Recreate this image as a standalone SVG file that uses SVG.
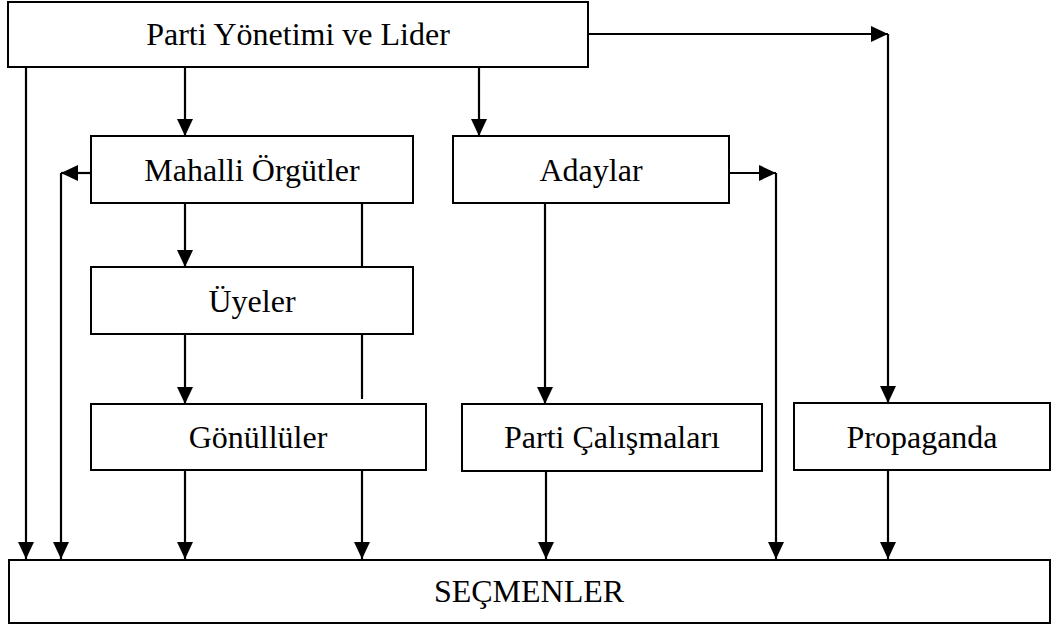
<svg xmlns="http://www.w3.org/2000/svg" width="1051" height="628" viewBox="0 0 1051 628">
<style>
.box{fill:#fff;stroke:#000;stroke-width:2}
.lbl{font-family:"Liberation Serif","Times New Roman",serif;font-size:32px;fill:#000;text-anchor:middle}
.c{fill:none;stroke:#000;stroke-width:2.2}
</style>
<defs>
<marker id="ah" markerUnits="userSpaceOnUse" markerWidth="20" markerHeight="18" refX="17" refY="8" orient="auto">
<path d="M0,0 L17,8 L0,16 z" fill="#000"/>
</marker>
</defs>
<rect width="1051" height="628" fill="#fff"/>
<g id="connectors">
<path class="c" d="M26,67 V559" marker-end="url(#ah)"/>
<path class="c" d="M91,173 H61" marker-end="url(#ah)"/>
<path class="c" d="M61,173 V559" marker-end="url(#ah)"/>
<path class="c" d="M185,67 V136" marker-end="url(#ah)"/>
<path class="c" d="M479,67 V136" marker-end="url(#ah)"/>
<path class="c" d="M588,34 H888" marker-end="url(#ah)"/>
<path class="c" d="M888,34 V403" marker-end="url(#ah)"/>
<path class="c" d="M729,173 H776" marker-end="url(#ah)"/>
<path class="c" d="M776,173 V559" marker-end="url(#ah)"/>
<path class="c" d="M185,203 V267" marker-end="url(#ah)"/>
<path class="c" d="M362,203 V267"/>
<path class="c" d="M185,334 V404" marker-end="url(#ah)"/>
<path class="c" d="M362,334 V399"/>
<path class="c" d="M185,470 V559" marker-end="url(#ah)"/>
<path class="c" d="M362,470 V559" marker-end="url(#ah)"/>
<path class="c" d="M545,203 V404" marker-end="url(#ah)"/>
<path class="c" d="M546,471 V559" marker-end="url(#ah)"/>
<path class="c" d="M888,470 V559" marker-end="url(#ah)"/>
</g>
<g id="node-lider"><rect class="box" x="8" y="2" width="580" height="65"/><text class="lbl" x="298" y="45">Parti Yönetimi ve Lider</text></g>
<g id="node-mahalli"><rect class="box" x="91" y="136" width="322" height="67"/><text class="lbl" x="252" y="181">Mahalli Örgütler</text></g>
<g id="node-adaylar"><rect class="box" x="453" y="136" width="276" height="67"/><text class="lbl" x="591" y="181">Adaylar</text></g>
<g id="node-uyeler"><rect class="box" x="91" y="267" width="322" height="67"/><text class="lbl" x="252" y="312">Üyeler</text></g>
<g id="node-gonulluler"><rect class="box" x="91" y="404" width="335" height="66"/><text class="lbl" x="258" y="448">Gönüllüler</text></g>
<g id="node-calismalar"><rect class="box" x="462" y="404" width="300" height="67"/><text class="lbl" x="612" y="448">Parti Çalışmaları</text></g>
<g id="node-propaganda"><rect class="box" x="794" y="403" width="256" height="67"/><text class="lbl" x="922" y="448">Propaganda</text></g>
<g id="node-secmenler"><rect class="box" x="9" y="560" width="1041" height="63"/><text class="lbl" x="529" y="602">SEÇMENLER</text></g>
</svg>
